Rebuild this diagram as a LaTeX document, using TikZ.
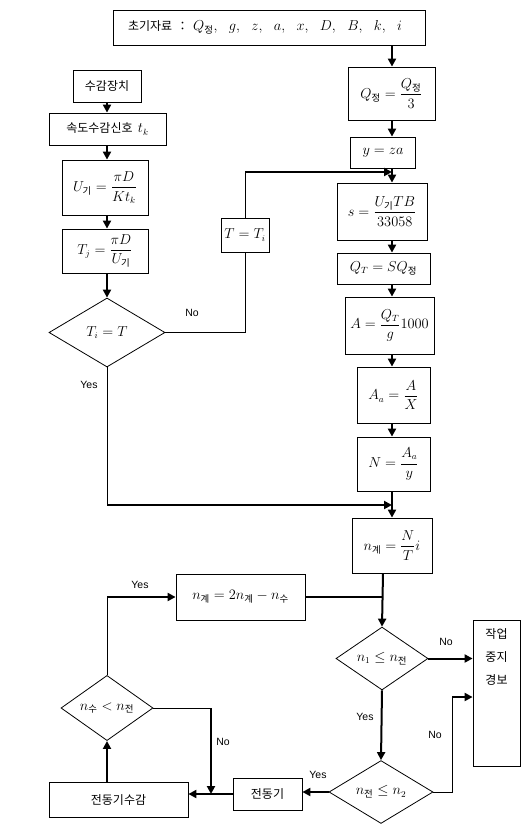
\documentclass[tikz,border=0pt]{standalone}
\usepackage{amsmath}
\usepackage{fontspec}
\newfontfamily\cjk{Noto Sans CJK KR}
\newfontfamily\lab{Liberation Sans}
\usetikzlibrary{shapes.geometric,arrows.meta}
\newcommand{\ks}[1]{\text{\cjk #1}}

\begin{document}
\begin{tikzpicture}[x=1pt,y=-1pt,
  every node/.style={inner sep=0pt,font=\fontsize{13.5}{15}\selectfont},
  box/.style 2 args={draw,line width=0.8pt,minimum width=#1,minimum height=#2},
  dec/.style 2 args={draw,diamond,line width=0.8pt,minimum width=#1,minimum height=#2},
  ktxt/.style={font=\cjk\fontsize{12}{14}\selectfont},
  wire/.style={line width=0.8pt},
  bar/.style={line width=2pt},
  flow/.style={line width=2pt,-{Triangle[length=8pt,width=8pt]}},
  yn/.style={font=\lab\fontsize{10.5}{12}\selectfont}]
\useasboundingbox (0,0) rectangle (532,828);
\coordinate (col) at (392,0);
\coordinate (lc) at (107,0);
\coordinate (lc2) at (383,0);
% header
\node[box={312}{35},text width=282pt,align=left] (init) at (269,27.5)
  {{\cjk\fontsize{12}{14}\selectfont 초기자료 ：} $Q_{\ks{정}},\ \ g,\ \ z,\ \ a,\ \ x,\ \ D,\ \ B,\ \ k,\ \ i$};
% right column
\node[box={87}{53}] (qj) at (391.5,93.5) {$Q_{\ks{정}}=\dfrac{Q_{\ks{정}}}{3}$};
\node[box={65}{31}] (yz) at (383,152.5) {$y=za$};
\node[box={90}{57}] (sv) at (382,211.5) {$s=\dfrac{U_{\ks{기}}TB}{33058}$};
\node[box={93}{31}] (qt) at (383.5,268.5) {$Q_T=SQ_{\ks{정}}$};
\node[box={89}{57}] (av) at (389.5,325.5) {$A=\dfrac{Q_T}{g}1000$};
\node[box={73}{56}] (aa) at (393.5,395) {$A_a=\dfrac{A}{X}$};
\node[box={73}{54}] (nv) at (393.5,464) {$N=\dfrac{A_a}{y}$};
\node[box={80}{55}] (nk) at (392,545.5) {$n_{\ks{계}}=\dfrac{N}{T}i$};
\draw[flow] (init.south -| col) -- (qj.north -| col);
\draw[flow] (qj.south -| col) -- (yz.north -| col);
\draw[flow] (yz.south -| col) -- (sv.north -| col);
\draw[flow] (sv.south -| col) -- (qt.north -| col);
\draw[flow] (qt.south -| col) -- (av.north -| col);
\draw[flow] (av.south -| col) -- (aa.north -| col);
\draw[flow] (aa.south -| col) -- (nv.north -| col);
\draw[flow] (nv.south -| col) -- (nk.north -| col);
% left column
\node[box={68}{32},ktxt] (sensor) at (107,86) {수감장치};
\node[box={117}{32},ktxt] (signal) at (107.5,129) {속도수감신호\ \ {\fontsize{13.5}{15}\selectfont$t_k$}};
\node[box={86}{55}] (uk) at (105,187.5) {$U_{\ks{기}}=\dfrac{\pi D}{Kt_k}$};
\node[box={86}{44}] (tj) at (105,251) {$T_j=\dfrac{\pi D}{U_{\ks{기}}}$};
\node[dec={116}{69}] (cmp) at (107,332.5) {$T_i=T$};
\draw[flow] (sensor.south -| lc) -- (signal.north -| lc);
\draw[flow] (signal.south -| lc) -- (uk.north -| lc);
\draw[flow] (uk.south -| lc) -- (tj.north -| lc);
\draw[flow] (tj.south -| lc) -- (cmp.north);
% No: T = T_i
\node[box={48}{34}] (ti) at (245,235) {$T=T_i$};
\coordinate (tjoin) at (245,172);
\draw[wire] (cmp.east) -| (ti.south);
\draw[wire] (ti.north) -- (tjoin);
\draw[flow] (tjoin) -- (tjoin -| col);
\node[yn] (cmpno) at (192,313) {No};
% Yes
\coordinate (yjoin) at (107,505);
\draw[wire] (cmp.south) -- (yjoin);
\draw[flow] (yjoin) -- (yjoin -| col);
\node[yn] (cmpyes) at (89,385) {Yes};
% checks
\node[dec={92}{61}] (chk1) at (382,658.5) {$n_1\le n_{\ks{전}}$};
\draw[flow] (nk.south -| lc2) -- (chk1.north);
\node[box={47}{146}] (alarm) at (496.5,693) {};
\node[anchor=north,align=center,font=\cjk\fontsize{12}{23}\selectfont] (alarmtxt)
  at (496.5,628) {작업\\중지\\경보};
\draw[flow] (chk1.east) -- (chk1.east -| alarm.west);
\node[yn] (chk1no) at (446,642) {No};
\node[dec={104}{54}] (chk2) at (381,792) {$n_{\ks{전}}\le n_2$};
\draw[flow] (chk1.south) -- (chk2.north);
\node[yn] (chk1yes) at (365,717) {Yes};
\coordinate (r1) at (452,792);
\coordinate (r2) at (452,697);
\draw[wire] (chk2.east) -- (r1) -- (r2);
\draw[flow] (r2) -- (r2 -| alarm.west);
\node[yn] (chk2no) at (435,735) {No};
% motor
\node[box={69}{32},ktxt] (motor) at (267.5,794) {전동기};
\draw[flow] (chk2.west) -- (chk2.west -| motor.east);
\node[yn] (chk2yes) at (318,775) {Yes};
\node[box={139}{35},ktxt] (msens) at (118.5,799.5) {전동기수감};
\draw[flow] (motor.west) -- (motor.west -| msens.east);
\node[dec={92}{60}] (chk3) at (107,708) {$n_{\ks{수}}<n_{\ks{전}}$};
\draw[flow] (chk3.south |- msens.north) -- (chk3.south);
\coordinate (nbend) at (211,708);
\draw[wire] (chk3.east) -- (nbend);
\draw[flow] (nbend) -- (nbend |- motor.west);
\node[yn] (chk3no) at (223,742) {No};
\node[box={129}{46}] (nupd) at (240.5,597) {$n_{\ks{계}}=2n_{\ks{계}}-n_{\ks{수}}$};
\coordinate (ybend) at (107,597);
\draw[wire] (chk3.north) -- (ybend);
\draw[flow] (ybend) -- (nupd.west);
\node[yn] (chk3yes) at (140,585) {Yes};
\draw[bar] (nupd.east) -- (nupd.east -| lc2);
\end{tikzpicture}
\end{document}
